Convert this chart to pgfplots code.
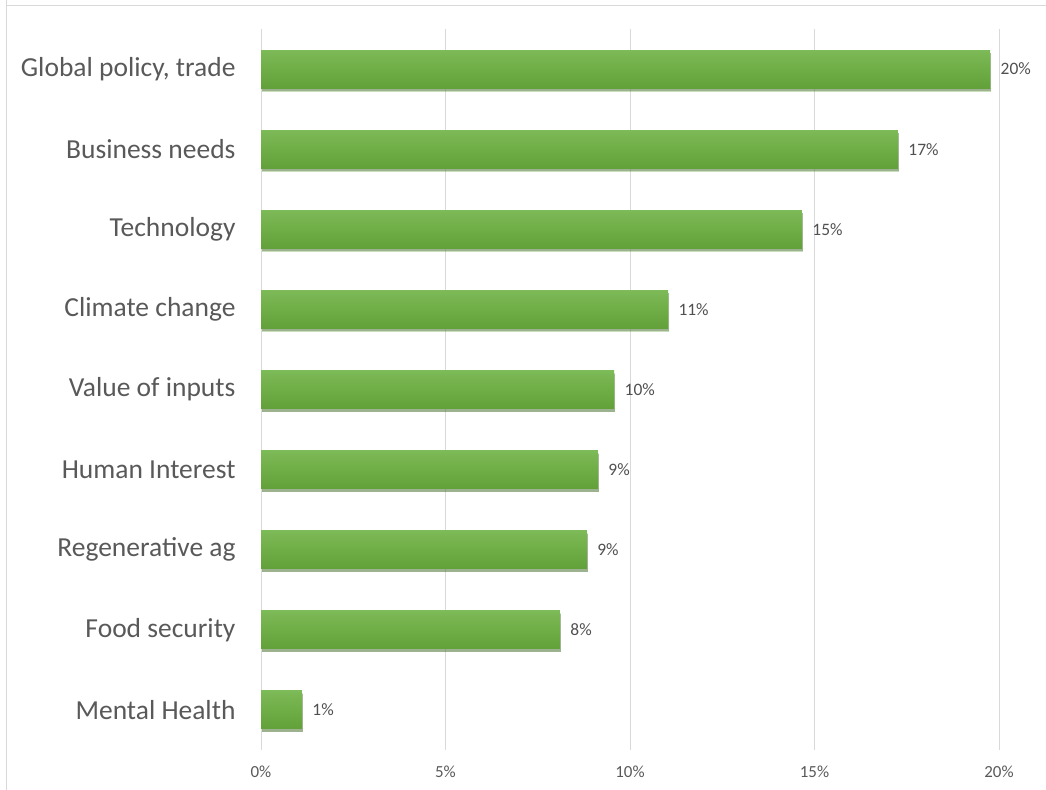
\documentclass[border=0pt]{standalone}
\usepackage{pgfplots}
\pgfplotsset{compat=1.18}
\usepackage{fontspec}
\setmainfont{Carlito}
\usetikzlibrary{shadows}
\definecolor{barmid}{HTML}{6FAD46}
\definecolor{bartop}{HTML}{7DBA58}
\definecolor{barbot}{HTML}{62A03A}
\definecolor{gridc}{HTML}{D9D9D9}
\definecolor{txt}{HTML}{595959}
\begin{document}
\begin{tikzpicture}[x=1bp,y=1bp]
\useasboundingbox (0,0) rectangle (1046,790);
\draw[gridc, line width=1bp] (6,790) -- (6,0);
\draw[gridc, line width=1bp] (6,784) -- (1046,784);
\begin{axis}[
  at={(261bp,40bp)}, anchor=south west,
  scale only axis,
  width=738bp, height=721bp,
  xmin=0, xmax=20,
  ymin=-0.5, ymax=8.5,
  y dir=reverse,
  xbar, bar width=38bp, bar shift=0pt,
  axis line style={draw=none},
  major tick length=0pt,
  xtick={0,5,10,15,20},
  xticklabels={0\%,5\%,10\%,15\%,20\%},
  xmajorgrids, grid style={gridc, line width=1bp},
  ytick={0,...,8},
  yticklabels={{Global policy, trade},Business needs,Technology,Climate change,Value of inputs,Human Interest,Regenerative ag,Food security,Mental Health},
  yticklabel style={font=\fontsize{27.6}{29}\selectfont, text=txt, xshift=-22bp},
  xticklabel style={font=\fontsize{17}{19}\selectfont, text=txt, yshift=-12bp},
  nodes near coords,
  point meta=explicit symbolic,
  every node near coord/.append style={font=\fontsize{17.5}{19}\selectfont, text=txt!90!black, anchor=west, xshift=7bp},
  clip=false,
  greenbar/.style={draw=none, top color=bartop, bottom color=barbot, middle color=barmid,
    drop shadow={shadow xshift=1bp, shadow yshift=-3bp, opacity=0.35, fill=black!75}},
]
\addplot[greenbar] coordinates {(19.76,0) [20\%]};
\addplot[greenbar] coordinates {(17.26,1) [17\%]};
\addplot[greenbar] coordinates {(14.66,2) [15\%]};
\addplot[greenbar] coordinates {(11.03,3) [11\%]};
\addplot[greenbar] coordinates {(9.57,4) [10\%]};
\addplot[greenbar] coordinates {(9.13,5) [9\%]};
\addplot[greenbar] coordinates {(8.83,6) [9\%]};
\addplot[greenbar] coordinates {(8.10,7) [8\%]};
\addplot[greenbar] coordinates {(1.11,8) [1\%]};
\end{axis}
\end{tikzpicture}
\end{document}
